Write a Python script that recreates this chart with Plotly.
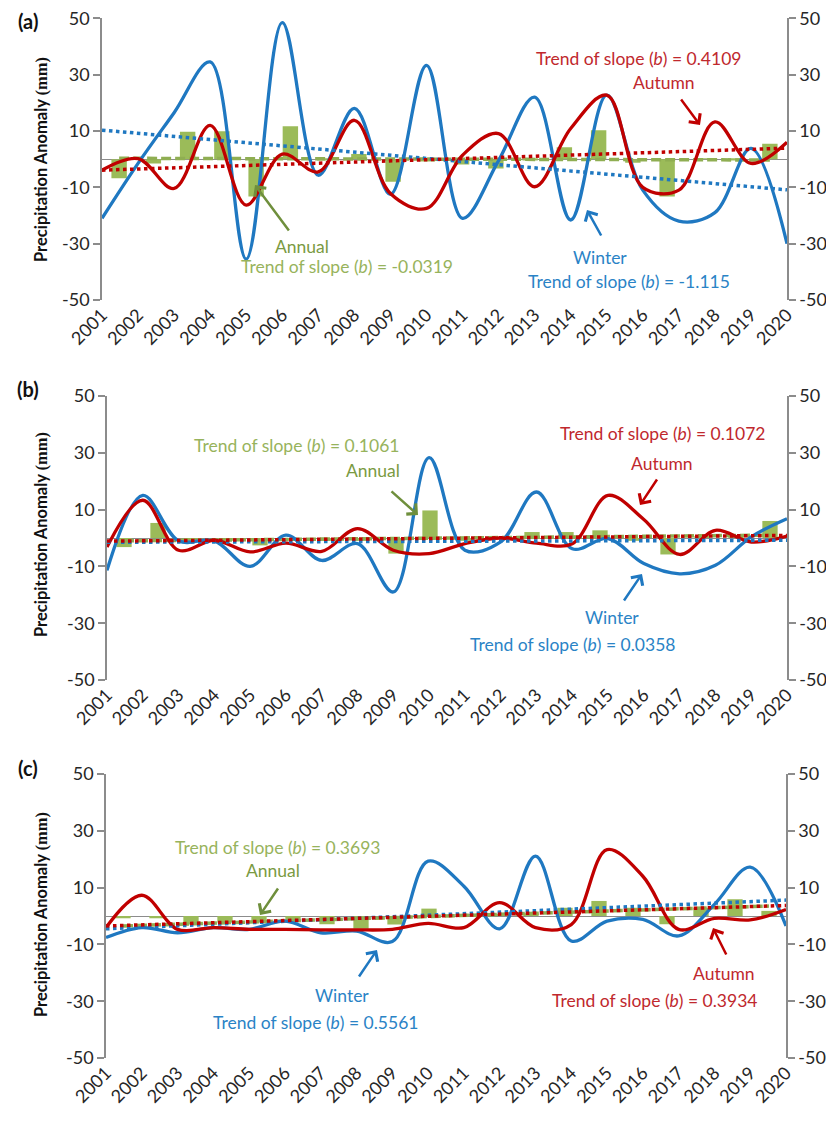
import plotly.graph_objects as go

# Page body adds an 8px margin; the figure is sized to the remaining area
OFF = 8
W, H = 834 - OFF, 1121 - OFF

years = [str(y) for y in range(2001, 2021)]
y_ticks = [-50, -30, -10, 10, 30, 50]
y_tick_text = ["-50", "-30", "-10", "10", "30", "50"]

# ---- Panel (a) ----
winter_a = [-21, -1.5, 16.5, 34.5, -35.5, 48.5, -5.7, 18, -12.5, 33.3, -21, -0.5, 22, -21.6, 22.7, -11, -22, -19, 3.8, -30]
autumn_a = [-3.9, 0.2, -10.4, 12, -16.3, 1.8, -4.5, 13.8, -12.2, -17.5, 1.4, 9.1, -9.8, 10.9, 22.7, -10, -11, 13.2, -1.5, 6]
annual_a = [-6.8, -1.5, 9.7, 9.9, -13.3, 11.7, -0.5, 1.8, -8, -0.8, -1.9, -3.3, -0.5, 4.2, 10.3, -1.3, -13.3, 0.3, -0.5, 5.5]
winter_trend_a = [10.3, -10.9]
autumn_trend_a = [-3.9, 3.9]
annual_trend_a = [0.3, -0.3]

# ---- Panel (b) ----
winter_b = [-11.4, 15, -1, -1, -10, 1, -7.9, -2, -19, 28.3, -4.3, -1.4, 16.2, -3.8, -0.2, -9, -12.6, -9.6, 0.4, 6.8]
autumn_b = [-3.2, 13.3, -4.3, -0.8, -4.9, -1.8, -4.7, 3.3, -4.3, -5.5, -2, 0, -1.8, -2, 15, 6.5, -5.8, 2.7, -1.4, 0.7]
annual_b = [-3.2, 5.3, -1, -1, -2.6, -1, -1, -1, -5.5, 9.7, -1, 0, 2.1, 2.1, 2.7, -1, -5.8, 0.5, 0.5, 6]
winter_trend_b = [-1.5, -0.8]
autumn_trend_b = [-1.1, 0.9]
annual_trend_b = [-1, 1]

# ---- Panel (c) ----
winter_c = [-7.6, -4.1, -5.9, -4.1, -4.7, -1.8, -5.9, -5.3, -9, 19.3, 10.5, -4.5, 21.1, -8.8, -1.8, -1.2, -7, 4.1, 17.2, -3.5]
autumn_c = [-4.1, 7.3, -4.7, -4.1, -4.7, -4.7, -4.9, -4.9, -4.7, -2.6, -4.1, 4.7, -4.1, -3, 23.4, 14, -4.7, -0.8, -1.4, 2.3]
annual_c = [-0.8, -0.8, -3, -2.3, -2.3, -1.8, -2.9, -4.5, -3, 2.6, 0.5, 0.5, 1, 2.9, 5.3, 2.9, -2.9, 2.9, 5.9, 1.8]
winter_trend_c = [-4.5, 5.6]
autumn_trend_c = [-3.5, 3.7]
annual_trend_c = [-3.5, 3.5]

slope_labels = {
    "a": {"winter": "-1.115", "autumn": "0.4109", "annual": "-0.0319"},
    "b": {"winter": "0.0358", "autumn": "0.1072", "annual": "0.1061"},
    "c": {"winter": "0.5561", "autumn": "0.3934", "annual": "0.3693"},
}

BLUE = "#1f78c1"
RED = "#c00000"
GREEN_BAR = "#9bbb59"
GREEN_DARK = "#7a9a42"
GREEN_TXT = "#97b35c"
RED_TXT = "#c0282d"
BLUE_TXT = "#2a83c6"
AXIS_GRAY = "#8c8c8c"
FONT = "Lato"
FS = 17.5
TICK_FS = 18

def P(x, y):
    """Window pixel -> paper fraction."""
    return (x - OFF) / W, 1 - (y - OFF) / H

panels = [
    dict(key="a", winter=winter_a, autumn=autumn_a, annual=annual_a,
         wt=winter_trend_a, at=autumn_trend_a, nt=annual_trend_a,
         xdom=(102, 787), ydom=(18.3, 300)),
    dict(key="b", winter=winter_b, autumn=autumn_b, annual=annual_b,
         wt=winter_trend_b, at=autumn_trend_b, nt=annual_trend_b,
         xdom=(107, 787), ydom=(396, 680)),
    dict(key="c", winter=winter_c, autumn=autumn_c, annual=annual_c,
         wt=winter_trend_c, at=autumn_trend_c, nt=annual_trend_c,
         xdom=(106, 786), ydom=(774, 1058)),
]

fig = go.Figure()
layout = {}

for k, p in enumerate(panels):
    xb = 2 * k + 1   # bar axis (base)
    xl = 2 * k + 2   # line axis (overlay)
    yl = 2 * k + 1   # left y
    yr = 2 * k + 2   # right y
    def nm(prefix, n):
        return prefix if n == 1 else f"{prefix}{n}"
    xb_id, xl_id, yl_id, yr_id = nm("x", xb), nm("x", xl), nm("y", yl), nm("y", yr)

    fig.add_trace(go.Bar(x=years, y=p["annual"], xaxis=xb_id, yaxis=yl_id,
                         marker=dict(color=GREEN_BAR, line=dict(width=0)),
                         width=0.45, showlegend=False, hoverinfo="skip"))
    fig.add_trace(go.Scatter(x=[years[0], years[-1]], y=p["nt"], xaxis=xb_id, yaxis=yl_id,
                             mode="lines", line=dict(color="#8fae52", width=3.5, dash="10px,4px"),
                             showlegend=False, hoverinfo="skip"))
    fig.add_trace(go.Scatter(x=years, y=p["winter"], xaxis=xl_id, yaxis=yl_id, mode="lines",
                             line=dict(color=BLUE, width=3.3, shape="spline", smoothing=1),
                             cliponaxis=False, showlegend=False, hoverinfo="skip"))
    fig.add_trace(go.Scatter(x=years, y=p["autumn"], xaxis=xl_id, yaxis=yl_id, mode="lines",
                             line=dict(color=RED, width=3.3, shape="spline", smoothing=1),
                             cliponaxis=False, showlegend=False, hoverinfo="skip"))
    fig.add_trace(go.Scatter(x=[years[0], years[-1]], y=p["wt"], xaxis=xl_id, yaxis=yl_id, mode="lines",
                             line=dict(color=BLUE, width=3.5, dash="dot"),
                             showlegend=False, hoverinfo="skip"))
    fig.add_trace(go.Scatter(x=[years[0], years[-1]], y=p["at"], xaxis=xl_id, yaxis=yl_id, mode="lines",
                             line=dict(color=RED, width=3.5, dash="dot"),
                             showlegend=False, hoverinfo="skip"))
    fig.add_trace(go.Scatter(x=[], y=[], xaxis=xl_id, yaxis=yr_id, mode="lines",
                             showlegend=False, hoverinfo="skip"))

    x0, _ = P(p["xdom"][0], 0)
    x1, _ = P(p["xdom"][1], 0)
    _, ytop = P(0, p["ydom"][0])
    _, ybot = P(0, p["ydom"][1])
    xd = [x0, x1]
    yd = [ybot, ytop]

    layout[nm("xaxis", xb)] = dict(domain=xd, anchor=yl_id, type="category",
                                   categoryorder="array", categoryarray=years,
                                   range=[-0.5, 19.5], showticklabels=False, automargin=False,
                                   showline=False, showgrid=False, zeroline=False, ticks="")
    layout[nm("xaxis", xl)] = dict(domain=xd, anchor=yl_id, overlaying=xb_id, type="category",
                                   categoryorder="array", categoryarray=years,
                                   range=[0, 19], showticklabels=True, tickangle=-45,
                                   automargin=False,
                                   tickfont=dict(family=FONT, size=TICK_FS, color="#262626"),
                                   showline=False, showgrid=False, zeroline=False, ticks="")
    ycommon = dict(range=[-50, 50], tickvals=y_ticks, ticktext=y_tick_text,
                   ticks="outside", ticklen=7, automargin=False, ticklabeloverflow="allow",
                   tickwidth=1.5, tickcolor=AXIS_GRAY, showline=True, linecolor=AXIS_GRAY,
                   linewidth=1.5, showgrid=False,
                   tickfont=dict(family=FONT, size=TICK_FS, color="#262626"))
    layout[nm("yaxis", yl)] = dict(domain=yd, anchor=xb_id, zeroline=True,
                                   zerolinecolor=AXIS_GRAY, zerolinewidth=1, **ycommon)
    layout[nm("yaxis", yr)] = dict(domain=yd, anchor=xb_id, overlaying=yl_id, side="right",
                                   zeroline=False, **ycommon)

annotations = []

def txt(x, y, text, color, size=FS, family=FONT, angle=0):
    px_, py_ = P(x, y)
    annotations.append(dict(x=px_, y=py_, xref="paper", yref="paper", text=text,
                            showarrow=False, xanchor="center", yanchor="middle",
                            textangle=angle,
                            font=dict(family=family, size=size, color=color)))

def arrow(tail, head, color):
    hx, hy = P(*head)
    annotations.append(dict(x=hx, y=hy, xref="paper", yref="paper", text="",
                            showarrow=True, ax=tail[0] - head[0], ay=tail[1] - head[1],
                            arrowhead=4, arrowsize=1.1, arrowwidth=2.5, arrowcolor=color,
                            standoff=0))

def trend_text(v):
    return f"Trend of slope (<i>b</i>) = {v}"

for lab, (x, y) in zip(["(a)", "(b)", "(c)"], [(28, 21), (28, 389), (28, 768)]):
    txt(x, y, f"<b>{lab}</b>", "#111111", size=20)

ytitle = "<b>Precipitation Anomaly <span style=\"font-family:Liberation Serif\">(mm)</span></b>"
for y in [160, 535, 915]:
    txt(41, y, ytitle, "#111111", size=16.5, angle=-90)

s = slope_labels["a"]
txt(638, 58, trend_text(s["autumn"]), RED_TXT)
txt(664, 83, "Autumn", RED_TXT)
arrow((680, 98), (700, 125), RED)
txt(600, 257, "Winter", BLUE_TXT)
txt(629, 282, trend_text(s["winter"]), BLUE_TXT)
arrow((602, 237), (587, 210), BLUE)
txt(302, 247, "Annual", GREEN_DARK)
txt(347, 266, trend_text(s["annual"]), GREEN_TXT)
arrow((290, 232), (255, 185), "#6f8f3c")

s = slope_labels["b"]
txt(296, 445, trend_text(s["annual"]), GREEN_TXT)
txt(373, 470, "Annual", GREEN_DARK)
arrow((390, 490), (418, 515), "#6f8f3c")
txt(662, 433, trend_text(s["autumn"]), RED_TXT)
txt(662, 463, "Autumn", RED_TXT)
arrow((658, 478), (640, 505), RED)
txt(612, 617, "Winter", BLUE_TXT)
txt(572, 644, trend_text(s["winter"]), BLUE_TXT)
arrow((623, 602), (642, 574), BLUE)

s = slope_labels["c"]
txt(277, 847, trend_text(s["annual"]), GREEN_TXT)
txt(273, 870, "Annual", GREEN_DARK)
arrow((279, 887), (260, 915), "#6f8f3c")
txt(342, 995, "Winter", BLUE_TXT)
txt(315, 1022, trend_text(s["winter"]), BLUE_TXT)
arrow((358, 978), (377, 950), BLUE)
txt(724, 973, "Autumn", RED_TXT)
txt(654, 1000, trend_text(s["autumn"]), RED_TXT)
arrow((727, 956), (713, 928), RED)

fig.update_layout(template="none", width=W, height=H, autosize=False,
                  margin=dict(l=0, r=0, t=0, b=0, pad=0),
                  paper_bgcolor="white", plot_bgcolor="white",
                  showlegend=False, barmode="overlay",
                  font=dict(family=FONT, size=FS),
                  annotations=annotations, **layout)

fig.write_html("out.html")
